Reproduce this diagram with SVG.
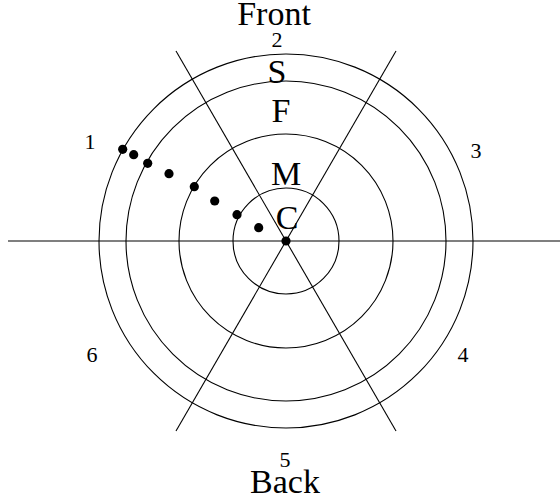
<svg xmlns="http://www.w3.org/2000/svg" width="560" height="497" viewBox="0 0 560 497">
<style>
.ln{fill:none;stroke:#000;stroke-width:1.1}
.t{font-family:"Liberation Serif","Times New Roman",serif;fill:#000;text-anchor:middle}
.big{font-size:34px}
.sm{font-size:22px}
.dot{fill:#000}
</style>
<rect width="560" height="497" fill="#fff"/>
<g id="rings">
<circle class="ln" cx="286" cy="241" r="53"/>
<circle class="ln" cx="286" cy="241" r="107"/>
<circle class="ln" cx="286" cy="241" r="160"/>
<circle class="ln" cx="286" cy="241" r="187"/>
</g>
<g id="connectors">
<line class="ln" x1="8" y1="241" x2="560" y2="241"/>
<line class="ln" x1="176" y1="51" x2="396" y2="431"/>
<line class="ln" x1="396" y1="51" x2="176" y2="431"/>
</g>
<g id="path-dots">
<circle class="dot" cx="122.7" cy="149.3" r="4.6"/>
<circle class="dot" cx="133.7" cy="154.7" r="4.6"/>
<circle class="dot" cx="147.7" cy="163.3" r="4.6"/>
<circle class="dot" cx="169" cy="173.7" r="4.6"/>
<circle class="dot" cx="194.3" cy="186.7" r="4.6"/>
<circle class="dot" cx="214.7" cy="201" r="4.6"/>
<circle class="dot" cx="237" cy="214.7" r="4.6"/>
<circle class="dot" cx="258.7" cy="227.7" r="4.6"/>
<circle class="dot" cx="286" cy="241" r="4.6"/>
</g>
<g id="labels">
<text class="t big" x="274" y="25">Front</text>
<text class="t sm" x="277" y="47">2</text>
<text class="t big" x="277" y="83">S</text>
<text class="t big" x="281" y="122">F</text>
<text class="t big" x="286" y="185">M</text>
<text class="t big" x="287" y="229">C</text>
<text class="t sm" x="90" y="149">1</text>
<text class="t sm" x="476" y="158">3</text>
<text class="t sm" x="92" y="362">6</text>
<text class="t sm" x="463" y="362">4</text>
<text class="t sm" x="285" y="467">5</text>
<text class="t big" x="285" y="493">Back</text>
</g>
</svg>
